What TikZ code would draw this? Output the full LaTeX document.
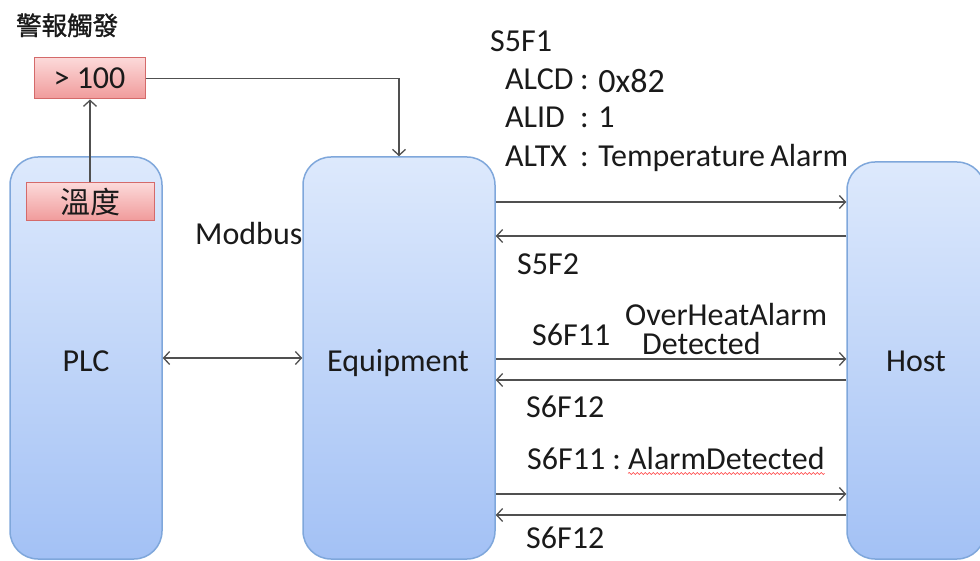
\documentclass[tikz,border=0pt]{standalone}
\usepackage{fontspec}
\setmainfont{Carlito}
\newfontfamily\cjk{Noto Sans CJK TC}
\newfontfamily\cjkb{Noto Sans CJK TC}[FakeBold=1.2]
\usetikzlibrary{arrows.meta,decorations.pathmorphing}
\definecolor{boxtop}{HTML}{DDE9FC}
\definecolor{boxbot}{HTML}{A3C1F5}
\definecolor{boxline}{HTML}{7FA7DB}
\definecolor{redtop}{HTML}{FCD9D9}
\definecolor{redbot}{HTML}{F09A9A}
\definecolor{redline}{HTML}{D46A6A}
\definecolor{arr}{HTML}{505050}
\definecolor{txt}{HTML}{1A1A1A}
\begin{document}
\begin{tikzpicture}[x=1pt,y=-1pt,
  font=\fontsize{32}{38}\selectfont,
  bigbox/.style={draw=boxline, line width=1.5pt, rounded corners=28pt, top color=boxtop, bottom color=boxbot, inner sep=0pt},
  redbox/.style={draw=redline, line width=1pt, top color=redtop, bottom color=redbot, inner sep=0pt, text=txt},
  lbl/.style={inner sep=0pt, anchor=base west, text=txt},
  clbl/.style={inner sep=0pt, anchor=base, text=txt},
  tip/.tip={Straight Barb[length=6pt,width=13pt,line width=1.3pt]},
  msg/.style={draw=arr, line width=1.4pt, -tip},
  wavy/.style={draw=red!80, line width=0.6pt, decorate, decoration={snake, amplitude=1pt, segment length=4pt}}
]
\useasboundingbox (0,0) rectangle (980,561);
\clip (0,0) rectangle (980,561);

% big boxes
\node[bigbox, minimum width=152pt, minimum height=402pt] (plc) at (86,358) {};
\node[bigbox, minimum width=192pt, minimum height=402pt] (eq) at (399,358) {};
\node[bigbox, minimum width=138pt, minimum height=397pt] (host) at (916,360.5) {};

\node[clbl] (plcl) at (86,371) {PLC};
\node[clbl] (eql) at (398,371) {Equipment};
\node[clbl] (hostl) at (916,371) {Host};

% red boxes
\node[redbox, minimum width=111pt, minimum height=41pt] (gt) at (89.5,78.5) {> 100};
\node[redbox, minimum width=128pt, minimum height=38pt] (temp) at (90,202) {\cjk\fontsize{30}{34}\selectfont 溫度};

\node[lbl] (alarm) at (16,35) {\cjkb\fontsize{25.5}{30}\selectfont 警報觸發};
\node[lbl] (modbus) at (195,245) {Modbus};

% connectors
\draw[msg] (temp.north) -- (temp.north |- gt.south);
\draw[msg] (gt.east) -| (eq.north);
\draw[msg, tip-tip] (plc.east) -- (eq.west);

\coordinate (y1) at (0,202);
\coordinate (y2) at (0,236);
\coordinate (y3) at (0,359);
\coordinate (y4) at (0,380);
\coordinate (y5) at (0,494);
\coordinate (y6) at (0,515);
\draw[msg] (eq.east |- y1) -- (host.west |- y1);
\draw[msg] (host.west |- y2) -- (eq.east |- y2);
\draw[msg] (eq.east |- y3) -- (host.west |- y3);
\draw[msg] (host.west |- y4) -- (eq.east |- y4);
\draw[msg] (eq.east |- y5) -- (host.west |- y5);
\draw[msg] (host.west |- y6) -- (eq.east |- y6);

% message labels
\node[lbl] (s5f1) at (490,52) {S5F1};
\node[lbl] (alcd) at (505,90) {\makebox[75pt][l]{ALCD}: \raisebox{-3pt}{\fontsize{34}{38}\selectfont 0x82}};
\node[lbl] (alid) at (505,128) {\makebox[75pt][l]{ALID}: 1};
\node[lbl] (altx) at (505,167) {\makebox[75pt][l]{ALTX}: Temperature\hspace{-2pt} Alarm};
\node[lbl] (s5f2) at (517,275) {S5F2};
\node[lbl] (s6f11a) at (532,345) {S6F11};
\node[lbl] (ohA) at (625,326) {OverHeatAlarm};
\node[lbl] (ohB) at (642,355) {Detected};
\node[lbl] (s6f12a) at (526,417) {S6F12};
\node[lbl] (s6f11b) at (527,469) {S6F11 :};
\node[lbl] (ad) at (628,469) {AlarmDetected};
\draw[wavy] ([yshift=-4pt]ad.south west) -- ([yshift=-4pt]ad.south east);
\node[lbl] (s6f12b) at (526,548) {S6F12};
\end{tikzpicture}
\end{document}
